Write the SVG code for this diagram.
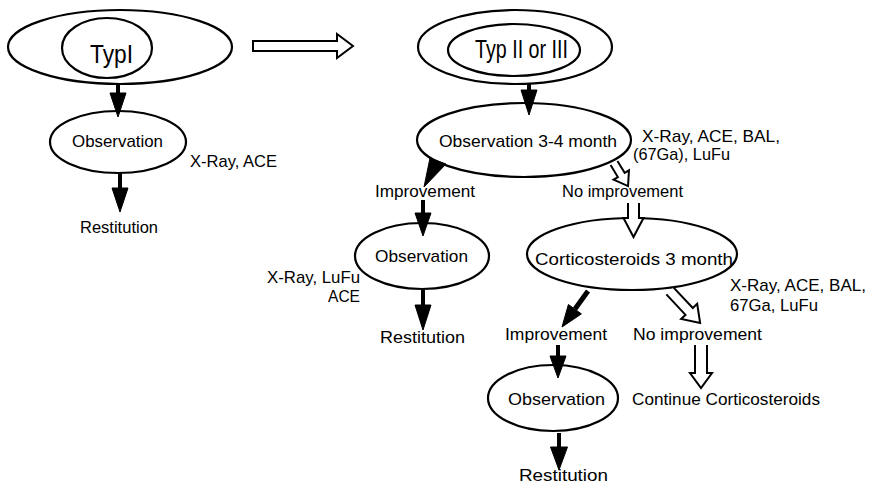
<svg xmlns="http://www.w3.org/2000/svg" width="869" height="487" viewBox="0 0 869 487">
  <style>
    .node ellipse { fill: none; stroke: #000; stroke-width: 2.2; }
    text { font-family: "Liberation Sans", Arial, sans-serif; font-size: 17px; fill: #000; }
    .big { font-size: 25px; }
    .shaft { stroke: #000; stroke-width: 4; fill: none; }
    .head { fill: #000; stroke: #000; stroke-width: 1; }
    .hollow { fill: #fff; stroke: #000; stroke-width: 2; stroke-linejoin: miter; }
  </style>
  <rect width="869" height="487" fill="#fff"/>

  <!-- Left branch -->
  <g id="typ1" class="node">
    <ellipse cx="120" cy="47" rx="112" ry="37"/>
    <ellipse cx="107" cy="48" rx="45" ry="30"/>
    <text class="big" x="90" y="63" textLength="43" lengthAdjust="spacingAndGlyphs">TypI</text>
  </g>
  <g id="obs-left" class="node">
    <ellipse cx="118" cy="142" rx="68" ry="31"/>
    <text x="72" y="147" textLength="91" lengthAdjust="spacingAndGlyphs">Observation</text>
  </g>
  <g id="label-xray-ace">
    <text x="190" y="167" textLength="87" lengthAdjust="spacingAndGlyphs">X-Ray, ACE</text>
  </g>
  <g id="rest-left">
    <text x="80" y="233" textLength="78" lengthAdjust="spacingAndGlyphs">Restitution</text>
  </g>

  <!-- Right branch -->
  <g id="typ23" class="node">
    <ellipse cx="515" cy="47" rx="97" ry="37"/>
    <ellipse cx="514" cy="50" rx="66" ry="26"/>
    <text class="big" x="475" y="58" textLength="93" lengthAdjust="spacingAndGlyphs">Typ II or III</text>
  </g>
  <g id="obs34" class="node">
    <ellipse cx="524" cy="140" rx="107" ry="37"/>
    <text x="439" y="147" textLength="178" lengthAdjust="spacingAndGlyphs">Observation 3-4 month</text>
  </g>
  <g id="label-obs34">
    <text x="642" y="142" textLength="138" lengthAdjust="spacingAndGlyphs">X-Ray, ACE, BAL,</text>
    <text x="633" y="160" textLength="97" lengthAdjust="spacingAndGlyphs">(67Ga), LuFu</text>
  </g>
  <g id="improv1">
    <text x="375" y="197" textLength="100" lengthAdjust="spacingAndGlyphs">Improvement</text>
  </g>
  <g id="noimprov1">
    <text x="562" y="197" textLength="121" lengthAdjust="spacingAndGlyphs">No improvement</text>
  </g>
  <g id="obs-mid" class="node">
    <ellipse cx="422" cy="256" rx="67" ry="33"/>
    <text x="375" y="262" textLength="93" lengthAdjust="spacingAndGlyphs">Observation</text>
  </g>
  <g id="label-obs-mid">
    <text x="267" y="283" textLength="93" lengthAdjust="spacingAndGlyphs">X-Ray, LuFu</text>
    <text x="328" y="302" textLength="32" lengthAdjust="spacingAndGlyphs">ACE</text>
  </g>
  <g id="rest-mid">
    <text x="380" y="343" textLength="85" lengthAdjust="spacingAndGlyphs">Restitution</text>
  </g>
  <g id="cortico" class="node">
    <ellipse cx="632" cy="254" rx="105" ry="36"/>
    <text x="535" y="265" textLength="198" lengthAdjust="spacingAndGlyphs">Corticosteroids  3 month</text>
  </g>
  <g id="label-cortico">
    <text x="730" y="291" textLength="136" lengthAdjust="spacingAndGlyphs">X-Ray, ACE, BAL,</text>
    <text x="730" y="311" textLength="88" lengthAdjust="spacingAndGlyphs">67Ga, LuFu</text>
  </g>
  <g id="improv2">
    <text x="505" y="340" textLength="102" lengthAdjust="spacingAndGlyphs">Improvement</text>
  </g>
  <g id="noimprov2">
    <text x="633" y="340" textLength="129" lengthAdjust="spacingAndGlyphs">No improvement</text>
  </g>
  <g id="obs-bottom" class="node">
    <ellipse cx="553" cy="398" rx="65" ry="33"/>
    <text x="508" y="405" textLength="97" lengthAdjust="spacingAndGlyphs">Observation</text>
  </g>
  <g id="continue">
    <text x="632" y="405" textLength="188" lengthAdjust="spacingAndGlyphs">Continue Corticosteroids</text>
  </g>
  <g id="rest-bottom">
    <text x="519" y="481" textLength="89" lengthAdjust="spacingAndGlyphs">Restitution</text>
  </g>

  <!-- Connectors -->
  <g id="connectors">
    <path class="hollow" transform="translate(253,46)" d="M0,-5 L84,-5 L84,-12 L100,0 L84,12 L84,5 L0,5 Z"/>
    <line class="shaft" x1="118" y1="84" x2="118" y2="95"/>
    <polygon class="head" points="110,93 126,93 118,117"/>
    <line class="shaft" x1="120" y1="173" x2="120" y2="190"/>
    <polygon class="head" points="112,188 128,188 120,212"/>
    <line class="shaft" x1="529" y1="83" x2="529" y2="92"/>
    <polygon class="head" points="521,90 537,90 529,115"/>
    <polygon class="head" points="430,158 446,164 424,187"/>
    <line class="shaft" x1="423" y1="200" x2="423" y2="215"/>
    <polygon class="head" points="415,213 431,213 423,236"/>
    <line class="shaft" x1="423" y1="290" x2="423" y2="307"/>
    <polygon class="head" points="415,305 431,305 423,330"/>
    <line class="shaft" x1="588" y1="291" x2="575" y2="309" style="stroke-width:5"/>
    <polygon class="head" points="581.4,313.9 568.4,304.5 562,327"/>
    <line class="shaft" x1="558" y1="345" x2="558" y2="358"/>
    <polygon class="head" points="550,356 566,356 558,378"/>
    <line class="shaft" x1="559" y1="433" x2="559" y2="449"/>
    <polygon class="head" points="550.5,447 567.5,447 559,470"/>
    <path class="hollow" transform="translate(614,163) rotate(58.7)" d="M0,-4 L14,-4 L14,-9 L27,0 L14,9 L14,4 L0,4"/>
    <path class="hollow" transform="translate(633.5,203) rotate(90)" d="M0,-5.5 L15,-5.5 L15,-10 L34,0 L15,10 L15,5.5 L0,5.5"/>
    <path class="hollow" transform="translate(670,291) rotate(46.8)" d="M0,-5 L28,-5 L28,-11 L44,0 L28,11 L28,5 L0,5"/>
    <path class="hollow" transform="translate(701,345) rotate(90)" d="M0,-6 L28,-6 L28,-11 L43,0 L28,11 L28,6 L0,6"/>
  </g>
</svg>
